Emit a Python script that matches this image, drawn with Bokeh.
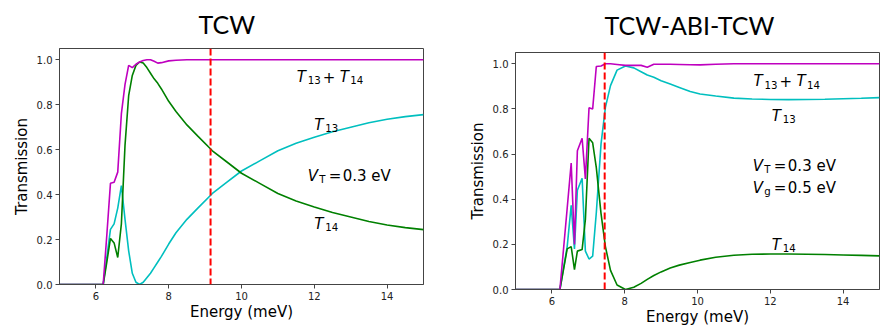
from bokeh.plotting import figure
from bokeh.layouts import row
from bokeh.models import Span, Label, FixedTicker, ColumnDataSource
from bokeh.embed import file_html
from bokeh.resources import INLINE

# ---------------- data ----------------
# Left panel: TCW
energy_tcw = [5.0, 6.2, 6.3, 6.4, 6.5, 6.6, 6.7, 6.8, 6.9, 7.0, 7.1, 7.2, 7.3, 7.4,
              7.5, 7.6, 7.7, 7.8, 8.0, 8.2, 8.5, 8.8, 9.2, 9.6, 10.0, 10.5, 11.0,
              11.5, 12.0, 12.5, 13.0, 13.5, 14.0, 14.5, 15.0]
t13_tcw = [0.0, 0.0, 0.12, 0.245, 0.27, 0.34, 0.44, 0.29, 0.15, 0.05, 0.01, 0.0,
           0.01, 0.03, 0.05, 0.075, 0.10, 0.125, 0.18, 0.23, 0.29, 0.34, 0.405,
           0.455, 0.505, 0.55, 0.595, 0.628, 0.655, 0.68, 0.70, 0.72, 0.735,
           0.747, 0.756]
t14_tcw = [0.0, 0.0, 0.10, 0.205, 0.185, 0.12, 0.27, 0.62, 0.84, 0.93, 0.975,
           0.99, 0.985, 0.965, 0.94, 0.915, 0.895, 0.87, 0.815, 0.77, 0.71, 0.66,
           0.595, 0.545, 0.495, 0.45, 0.405, 0.372, 0.345, 0.32, 0.30, 0.28,
           0.265, 0.253, 0.244]
tsum_tcw = [0.0, 0.0, 0.22, 0.45, 0.455, 0.50, 0.76, 0.89, 0.975, 0.965, 0.98,
            0.99, 0.997, 1.0, 1.0, 0.993, 0.985, 0.987, 0.995, 0.998, 1.0, 1.0,
            1.0, 1.0, 1.0, 1.0, 1.0, 1.0, 1.0, 1.0, 1.0, 1.0, 1.0, 1.0, 1.0]
cutoff_tcw = 9.15

# Right panel: TCW-ABI-TCW
energy_abi = [5.0, 6.22, 6.42, 6.53, 6.62, 6.70, 6.83, 6.92, 7.02, 7.12, 7.22,
              7.35, 7.47, 7.61, 7.79, 8.02, 8.25, 8.45, 8.62, 8.8, 9.0, 9.25,
              9.5, 9.8, 10.07, 10.5, 11.0, 11.5, 12.0, 12.5, 13.0, 13.5, 14.0,
              14.5, 15.0]
t13_abi = [0.0, 0.0, 0.19, 0.373, 0.18, 0.44, 0.493, 0.17, 0.135, 0.148, 0.34,
           0.645, 0.807, 0.903, 0.972, 0.99, 0.982, 0.965, 0.95, 0.94, 0.925,
           0.91, 0.895, 0.877, 0.866, 0.857, 0.848, 0.844, 0.842, 0.841, 0.842,
           0.843, 0.845, 0.847, 0.85]
t14_abi = [0.0, 0.0, 0.18, 0.19, 0.088, 0.17, 0.177, 0.31, 0.67, 0.65, 0.54,
           0.336, 0.19, 0.085, 0.02, 0.0, 0.01, 0.027, 0.045, 0.062, 0.078,
           0.095, 0.108, 0.12, 0.13, 0.143, 0.152, 0.156, 0.157, 0.157, 0.156,
           0.155, 0.153, 0.151, 0.149]
tsum_abi = [0.0, 0.0, 0.36, 0.56, 0.20, 0.615, 0.67, 0.49, 0.805, 0.80, 0.988,
            0.99, 1.0, 1.0, 0.997, 0.993, 0.993, 0.993, 0.985, 0.998, 0.998,
            0.998, 0.997, 0.996, 0.995, 0.998, 1.0, 1.0, 1.0, 1.0, 1.0, 1.0,
            1.0, 1.0, 1.0]
cutoff_abi = 7.45

x_ticks = [6, 8, 10, 12, 14]
y_ticks = [0.0, 0.2, 0.4, 0.6, 0.8, 1.0]
y_tick_labels = ["0.0", "0.2", "0.4", "0.6", "0.8", "1.0"]

C_SUM = "#bf00bf"
C_13 = "#00bfbf"
C_14 = "#008000"
FONT = "DejaVu Sans"
TITLE_FONT = "Lato"
AX = "#444444"
MAIN = 15
SUB = 10.2


def make_fig(title, width, height, margin, left, right, t_offset, t_standoff):
    p = figure(width=width, height=height, x_range=(5, 15), y_range=(0, 1.05),
               output_backend="svg", toolbar_location=None, margin=margin,
               min_border_left=left, min_border_right=right,
               min_border_top=60, min_border_bottom=45)
    p.title.text = title
    p.title.align = "left"
    p.title.offset = t_offset
    p.title.standoff = t_standoff
    p.title.text_font = TITLE_FONT
    p.title.text_font_size = "25px"
    p.title.text_font_style = "normal"
    p.title.text_color = "black"
    p.grid.visible = False
    p.outline_line_color = AX
    p.outline_line_width = 1
    p.background_fill_color = "white"
    p.border_fill_color = "white"
    p.xaxis.ticker = FixedTicker(ticks=x_ticks)
    p.yaxis.ticker = FixedTicker(ticks=y_ticks)
    p.yaxis.major_label_overrides = {v: s for v, s in zip(y_ticks, y_tick_labels)}
    for ax in (p.xaxis[0], p.yaxis[0]):
        ax.axis_line_color = AX
        ax.major_tick_line_color = AX
        ax.minor_tick_line_color = None
        ax.major_tick_out = 4
        ax.major_tick_in = 0
        ax.major_label_standoff = 3
        ax.major_label_text_font = FONT
        ax.major_label_text_font_size = "10px"
        ax.major_label_text_color = "#222222"
        ax.axis_label_text_font = FONT
        ax.axis_label_text_font_size = "15px"
        ax.axis_label_text_font_style = "normal"
        ax.axis_label_text_color = "black"
    p.xaxis.axis_label_standoff = 0
    p.yaxis.axis_label_standoff = 3
    p.xaxis.axis_label = "Energy (meV)"
    p.yaxis.axis_label = "Transmission"
    return p


def draw(p, e, t13, t14, tsum, cutoff):
    src = ColumnDataSource(dict(e=e, t13=t13, t14=t14, tsum=tsum))
    p.line("e", "t13", source=src, line_color=C_13, line_width=1.6)
    p.line("e", "t14", source=src, line_color=C_14, line_width=1.6)
    p.line("e", "tsum", source=src, line_color=C_SUM, line_width=1.6)
    p.add_layout(Span(location=cutoff, dimension="height", line_color="#ff0000",
                      line_width=2, line_dash="7 3"))


def rich(p, x, y, pieces):
    # pieces: (text, dx, dy, size, style)
    for text, dx, dy, size, style in pieces:
        p.add_layout(Label(x=x, y=y, x_offset=dx, y_offset=dy, text=text,
                           text_font=FONT, text_font_size=f"{size}px",
                           text_font_style=style, text_color="black",
                           text_baseline="alphabetic", text_align="left"))


def t_sum(p, x, y):
    rich(p, x, y, [("T", 0, 0, MAIN, "italic"), ("13", 11, -3.3, SUB, "normal"),
                   ("+", 26, 0, MAIN, "normal"), ("T", 43, 0, MAIN, "italic"),
                   ("14", 53.5, -3.3, SUB, "normal")])


def t_one(p, x, y, sub):
    rich(p, x, y, [("T", 0, 0, MAIN, "italic"), (sub, 11, -3.3, SUB, "normal")])


def v_line(p, x, y, sub, val):
    rich(p, x, y, [("V", 0, 0, MAIN, "italic"), (sub, 11.5, -3.3, SUB, "normal"),
                   ("=", 21, 0, MAIN, "normal"), (val, 35, 0, MAIN, "normal")])


left = make_fig("TCW", 445, 341, (-12, 0, 0, 0), 59, 22, 139, 20)
draw(left, energy_tcw, t13_tcw, t14_tcw, tsum_tcw, cutoff_tcw)
t_sum(left, 11.52, 0.925)
t_one(left, 12.0, 0.711, "13")
v_line(left, 11.82, 0.481, "T", "0.3 eV")
t_one(left, 12.0, 0.271, "14")

right_fig = make_fig("TCW-ABI-TCW", 446, 342, (-8, 0, 0, 0), 70, 12, 89, 26)
draw(right_fig, energy_abi, t13_abi, t14_abi, tsum_abi, cutoff_abi)
t_sum(right_fig, 11.54, 0.922)
t_one(right_fig, 12.04, 0.770, "13")
v_line(right_fig, 11.52, 0.545, "T", "0.3 eV")
v_line(right_fig, 11.52, 0.451, "g", "0.5 eV")
t_one(right_fig, 12.04, 0.199, "14")

layout = row(left, right_fig)
open("out.html", "w").write(file_html(layout, INLINE))
